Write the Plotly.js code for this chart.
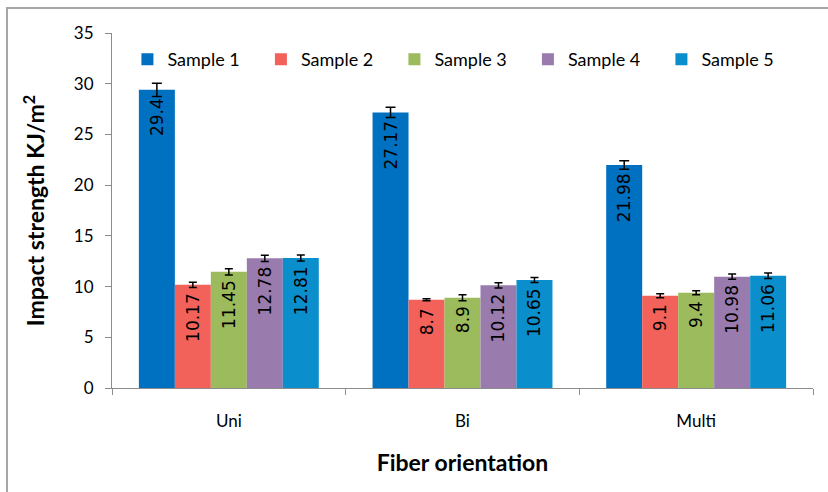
<!DOCTYPE html>
<html>
<head>
<meta charset="utf-8">
<script src="https://cdn.plot.ly/plotly-3.0.1.min.js"></script>
<style>
  html, body { margin: 0; padding: 0; background: #fff; }
  #chart { width: 828px; height: 492px; }
</style>
</head>
<body>
<div id="chart"></div>
<script>
const categories = ["Uni", "Bi", "Multi"];
const seriesNames = ["Sample 1", "Sample 2", "Sample 3", "Sample 4", "Sample 5"];
const sample1 = [29.4, 27.17, 21.98];
const sample2 = [10.17, 8.7, 9.1];
const sample3 = [11.45, 8.9, 9.4];
const sample4 = [12.78, 10.12, 10.98];
const sample5 = [12.81, 10.65, 11.06];
const err1 = [0.65, 0.5, 0.42];
const err2 = [0.25, 0.1, 0.2];
const err3 = [0.3, 0.3, 0.2];
const err4 = [0.3, 0.25, 0.25];
const err5 = [0.3, 0.25, 0.27];
const colors = ["#0070C0", "#F2625A", "#9CBB5C", "#9A7BAE", "#0A8ECC"];

const values = [sample1, sample2, sample3, sample4, sample5];
const errs = [err1, err2, err3, err4, err5];

const traces = values.map((v, i) => ({
  type: "bar",
  name: seriesNames[i],
  x: categories,
  y: v,
  marker: { color: colors[i] },
  text: v.map(val => String(val) + "\u00a0"),
  textposition: "inside",
  insidetextanchor: "end",
  textangle: -90,
  insidetextfont: { family: "DejaVu Sans", size: 17, color: "#000" },
  cliponaxis: false,
  error_y: {
    type: "data",
    array: errs[i],
    visible: true,
    color: "#000",
    thickness: 1.5,
    width: i === 0 ? 5 : 4
  },
  hoverinfo: "x+y+name"
}));

const layout = {
  width: 828,
  height: 492,
  margin: { l: 112, r: 15, t: 33, b: 104 },
  paper_bgcolor: "#fff",
  plot_bgcolor: "#fff",
  font: { family: "Lato, 'Open Sans', sans-serif", color: "#000" },
  barmode: "group",
  bargap: 0.23,
  bargroupgap: 0,
  showlegend: true,
  legend: {
    orientation: "h",
    x: 0.022,
    xanchor: "left",
    y: 0.925,
    yanchor: "middle",
    entrywidth: 88.5,
    entrywidthmode: "pixels",
    font: { family: "Lato", size: 18, color: "#000" },
    bgcolor: "rgba(0,0,0,0)",
    traceorder: "normal"
  },
  xaxis: {
    type: "category",
    showline: true,
    linecolor: "#8c8c8c",
    linewidth: 1,
    ticks: "outside",
    tickson: "boundaries",
    ticklen: 6,
    tickcolor: "#8c8c8c",
    showgrid: false,
    ticklabelstandoff: 18,
    tickfont: { family: "Lato", size: 17, color: "#000" },
    title: { text: "Fiber orientation", font: { family: "Lato", size: 23, color: "#000", weight: "bold" }, standoff: 24 }
  },
  yaxis: {
    range: [0, 35],
    dtick: 5,
    showline: true,
    linecolor: "#8c8c8c",
    linewidth: 1,
    ticks: "outside",
    ticklen: 6,
    tickcolor: "#8c8c8c",
    showgrid: false,
    zeroline: false,
    ticklabelstandoff: 8,
    tickfont: { family: "Lato", size: 17, color: "#000" },
    title: { text: "<b>Impact strength KJ/m<sup>2</sup></b>", font: { family: "Lato", size: 23, color: "#000" }, standoff: 22 }
  },
  shapes: [{
    type: "path",
    xref: "paper",
    yref: "paper",
    path: "M 1.2 1.0704 L -0.1498 1.0704 L -0.1498 -0.5",
    line: { color: "#a6a6a6", width: 2 }
  }]
};

Plotly.newPlot("chart", traces, layout, { displayModeBar: false, staticPlot: true });
</script>
</body>
</html>
